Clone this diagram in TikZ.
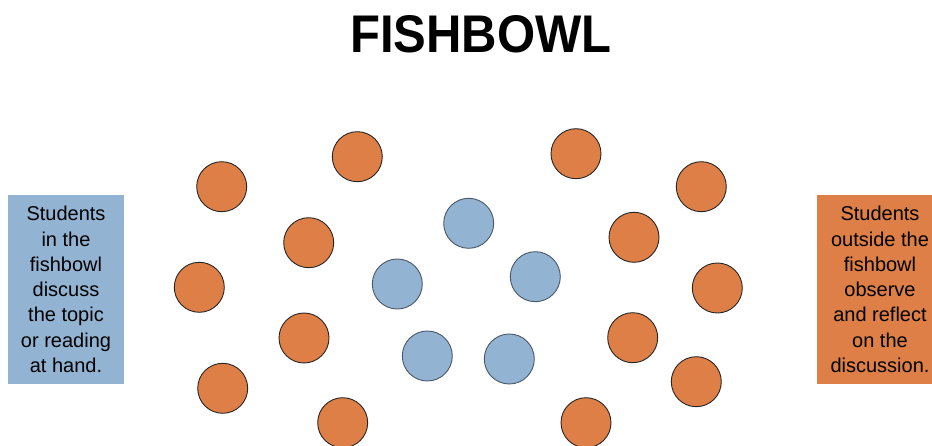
\documentclass[tikz,border=0pt]{standalone}
\usepackage{fontspec}
\setmainfont{Liberation Sans}
\definecolor{fishorange}{HTML}{DD7F46}
\definecolor{fishblue}{HTML}{93B3D3}
\definecolor{blueline}{HTML}{4A5866}
\begin{document}
\begin{tikzpicture}[x=1pt,y=-1pt,
  outer/.style={circle,fill=fishorange,draw=black!85,line width=0.9pt,minimum size=50pt,inner sep=0pt},
  inner/.style={circle,fill=fishblue,draw=blueline,line width=0.9pt,minimum size=50pt,inner sep=0pt},
  infobox/.style={rectangle,minimum width=116pt,minimum height=189pt,inner sep=0pt,align=center,
    font=\fontsize{20}{25.3}\selectfont}]
\useasboundingbox (0,0) rectangle (932,446);
\clip (0,0) rectangle (932,446);
\node[anchor=base,font=\fontsize{53}{60}\selectfont\bfseries] (title) at (481,53) {\scalebox{0.925}[1]{FISHBOWL}};
% info boxes
\node[infobox,fill=fishblue] (inbox) at (66,289.5) {Students\\in the\\fishbowl\\discuss\\the topic\\or reading\\at hand.};
\node[infobox,fill=fishorange,minimum width=126pt] (outbox) at (880,289.5) {Students\\outside the\\fishbowl\\observe\\and reflect\\on the\\discussion.};
% outer circle (orange)
\node[outer] (o1) at (221.7,186.7) {};
\node[outer] (o2) at (357.3,156.7) {};
\node[outer] (o3) at (308.7,242.7) {};
\node[outer] (o4) at (199.3,287.3) {};
\node[outer] (o5) at (304,338) {};
\node[outer] (o6) at (222.7,388.3) {};
\node[outer] (o7) at (342.7,422.7) {};
\node[outer] (o8) at (576,153.7) {};
\node[outer] (o9) at (701.3,186.7) {};
\node[outer] (o10) at (634,237.3) {};
\node[outer] (o11) at (717.3,288) {};
\node[outer] (o12) at (632.7,337.7) {};
\node[outer] (o13) at (696.3,381.7) {};
\node[outer] (o14) at (586,422.7) {};
% inner circle (blue)
\node[inner] (i1) at (468.7,223.3) {};
\node[inner] (i2) at (397.3,284) {};
\node[inner] (i3) at (535.3,276.7) {};
\node[inner] (i4) at (427.3,356) {};
\node[inner] (i5) at (509.3,359) {};
\end{tikzpicture}
\end{document}
